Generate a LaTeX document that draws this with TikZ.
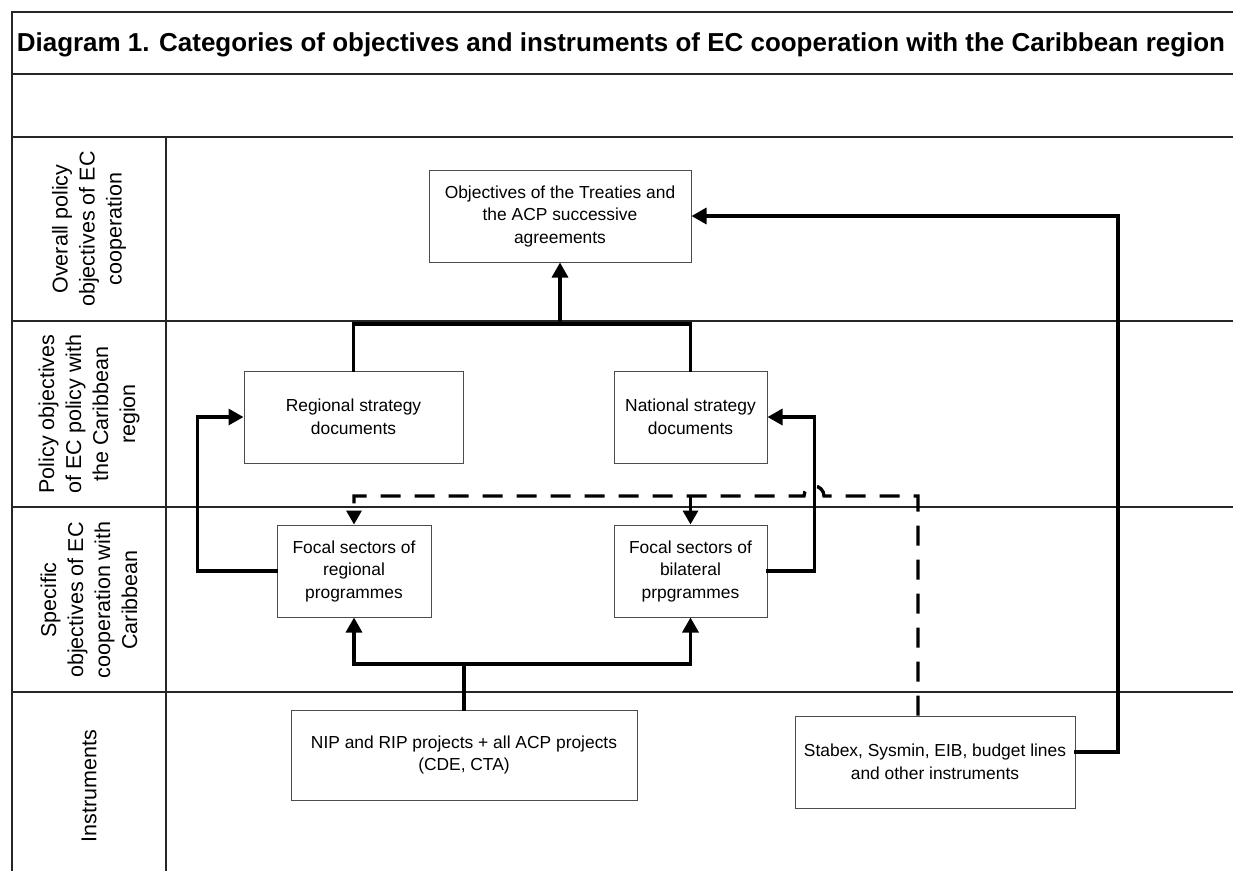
\documentclass[tikz,border=0pt]{standalone}
\usepackage{fontspec}
\setmainfont{Liberation Sans}
\usetikzlibrary{arrows.meta,calc}
\begin{document}
\begin{tikzpicture}[x=1pt,y=-1pt,
  grid/.style={draw=black!85,line width=1.5pt},
  box/.style={draw=black!70,line width=1pt,fill=white,align=center,inner sep=0pt,
    font=\fontsize{17.4}{22.5}\selectfont},
  rowlabel/.style={rotate=90,align=center,font=\fontsize{21.5}{27}\selectfont},
  conn/.style={line width=3.3pt,line cap=rect},
  tip/.style={-{Triangle[length=15pt,width=16pt]}},
  dtip/.style={-{Triangle[length=14pt,width=15pt]}},
  dconn/.style={line width=3.3pt,dash pattern=on 20pt off 14pt}
]
\useasboundingbox (0,0) rectangle (1233,871);
\fill[white] (0,0) rectangle (1233,871);
% table frame
\draw[grid] (1233,12) -- (12,12) -- (12,871);
\draw[grid] (12,74) -- (1233,74);
\draw[grid] (12,137) -- (1233,137);
\draw[grid] (166,137) -- (166,871);
\draw[grid] (12,321) -- (1233,321);
\draw[grid] (12,507) -- (1233,507);
\draw[grid] (12,692) -- (1233,692);
% title
\node[anchor=base] (title) at (621,51) {\resizebox{1208pt}{!}{\bfseries Diagram 1. Categories of objectives and instruments of EC cooperation with the Caribbean region}};
% row labels
\node[rowlabel] (r1) at (89,229) {Overall policy\\objectives of EC\\cooperation};
\node[rowlabel] (r2) at (89,414) {Policy objectives\\of EC policy with\\the Caribbean\\region};
\node[rowlabel] (r3) at (89,600) {Specific\\objectives of EC\\cooperation with\\Caribbean};
\node[rowlabel] (r4) at (89,786) {Instruments};
% boxes
\node[box,minimum width=262pt,minimum height=92pt] (top) at (560,216) {Objectives of the Treaties and\\the ACP successive\\agreements};
\node[box,minimum width=219pt,minimum height=92pt] (reg) at (353.5,417) {Regional strategy\\documents};
\node[box,minimum width=153pt,minimum height=92pt] (nat) at (690.5,417) {National strategy\\documents};
\node[box,minimum width=154pt,minimum height=92pt] (freg) at (354,571) {Focal sectors of\\regional\\programmes};
\node[box,minimum width=153pt,minimum height=92pt] (fbil) at (690.5,571) {Focal sectors of\\bilateral\\prpgrammes};
\node[box,minimum width=346pt,minimum height=90pt] (nip) at (464,755) {NIP and RIP projects + all ACP projects\\(CDE, CTA)};
\node[box,minimum width=280pt,minimum height=92pt] (stab) at (935,762) {Stabex, Sysmin, EIB, budget lines\\and other instruments};
% coordinates
\coordinate (j1) at (560,324);
\coordinate (j2) at (464,664);
\coordinate (rt) at (1118,216);
\coordinate (d1) at (918,496);
% solid connectors
\draw[conn] (reg.north) -- (reg.north |- j1) -- (nat.north |- j1) -- (nat.north);
\draw[conn,tip] (j1) -- (top.south);
\draw[conn,tip] (freg.west) -- ++(-79,0) |- (reg.west);
\draw[conn,tip] (fbil.east) -- ++(47,0) |- (nat.east);
\draw[conn,tip] ([yshift=10pt]stab.east) -| (rt) -- (top.east);
\draw[conn] (nip.north) -- (j2);
\draw[conn,tip] (j2) -| (freg.south);
\draw[conn,tip] (j2) -| (fbil.south);
% dashed connectors
\draw[dconn,dtip] (d1 |- stab.north) -- (d1) -- (824,496) arc[start angle=0,end angle=180,radius=10pt] -- (freg.north |- d1) -- (freg.north);
\draw[dconn,dtip] (fbil.north |- d1) -- (fbil.north);
\end{tikzpicture}
\end{document}
